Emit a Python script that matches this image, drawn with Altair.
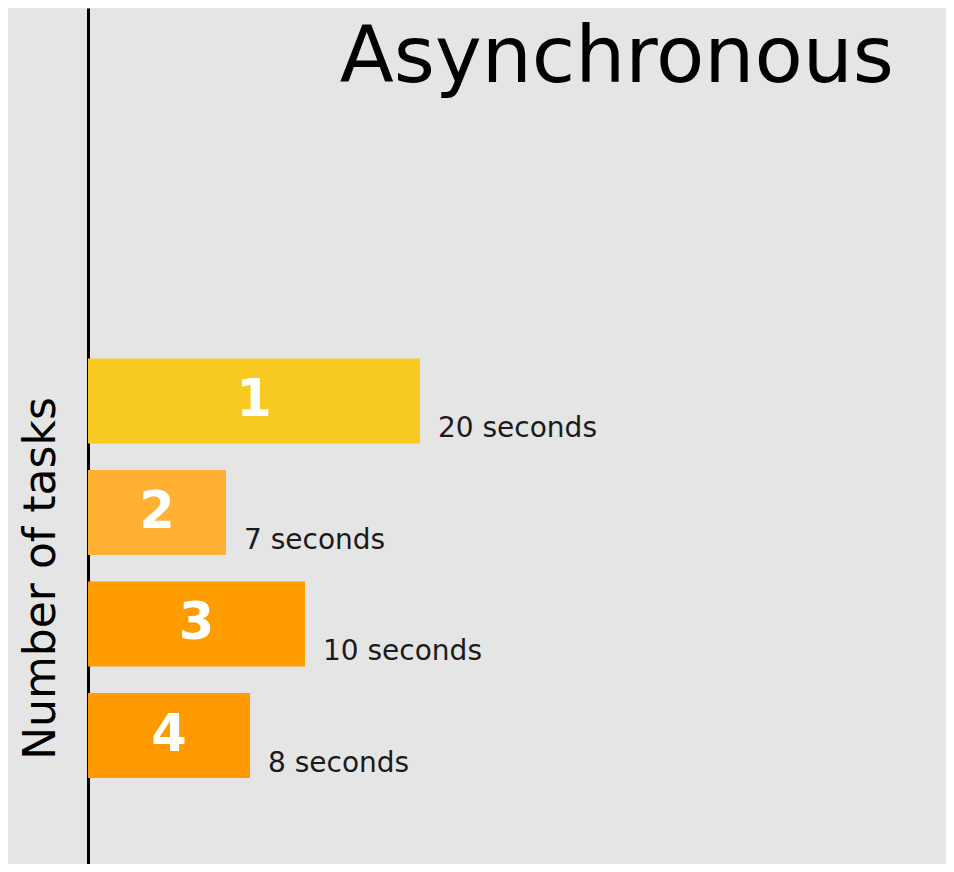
import altair as alt
import pandas as pd

title_text = "Asynchronous"
axis_title = "Number of tasks"
tasks = ["1", "2", "3", "4"]
task_index = [1, 2, 3, 4]
elapsed = [16.6, 6.9, 10.85, 8.1]          # bar progress (20 px per unit in the picture)
durations = [20, 7, 10, 8]                # seconds shown next to each bar
colors = ["#F9CA21", "#FFB133", "#FF9C00", "#FF9A00"]

df = pd.DataFrame({
    "task": tasks,
    "idx": task_index,
    "elapsed": elapsed,
    "dur": durations,
    "color": colors,
})
df["label"] = [f"{d} seconds" for d in durations]
df["y0"] = df["idx"] - 0.381
df["y1"] = df["idx"] + 0.381
df["mid"] = df["elapsed"] / 2

FONT = "DejaVu Sans"

xs = alt.Scale(domain=[-4, 42.9], nice=False, zero=False)
ys = alt.Scale(domain=[-2.525, 5.152], nice=False, zero=False, reverse=True)

base = alt.Chart(df)

bars = base.mark_rect().encode(
    x=alt.X("z:Q", scale=xs, axis=None),
    x2="elapsed:Q",
    y=alt.Y("y0:Q", scale=ys,
            axis=alt.Axis(title=axis_title, labels=False, ticks=False, grid=False,
                          domainColor="black", domainWidth=3, offset=-80,
                          titleFontSize=44, titleFont=FONT, titleFontWeight="normal",
                          titleColor="black", titleX=-47, titleY=570,
                          titleAngle=270, titleBaseline="middle", titleAlign="center")),
    y2="y1:Q",
    color=alt.Color("color:N", scale=None),
).transform_calculate(z="0")

nums = base.mark_text(color="white", fontSize=51, font=FONT, fontWeight="bold",
                      align="center", baseline="middle").encode(
    x=alt.X("mid:Q", scale=xs),
    y=alt.Y("idx:Q", scale=ys),
    text="task:N",
)

secs = base.mark_text(color="#1a1a1a", fontSize=28, font=FONT, align="left",
                      baseline="alphabetic", dx=18, dy=36).encode(
    x=alt.X("elapsed:Q", scale=xs),
    y=alt.Y("idx:Q", scale=ys),
    text="label:N",
)

title = alt.Chart(pd.DataFrame({"t": [title_text]})).mark_text(
    fontSize=79, font=FONT, color="black", align="right", baseline="alphabetic"
).encode(
    x=alt.value(886), y=alt.value(74), text="t:N"
)

chart = alt.layer(bars, nums, secs, title).properties(
    width=938, height=856,
    autosize="none", padding=0,
    background="#e5e5e5",
).configure_view(stroke=None)

chart.save("out.html", embed_options={"renderer": "svg", "actions": False})
